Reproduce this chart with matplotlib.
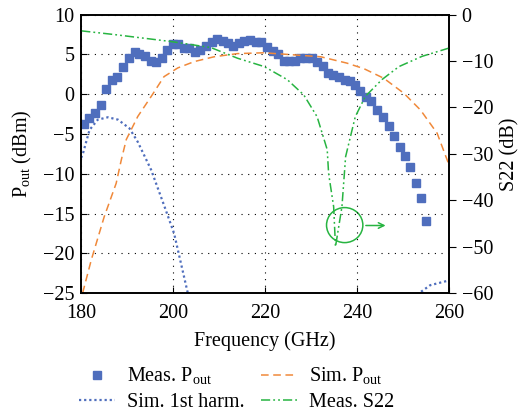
import numpy as np
import matplotlib
matplotlib.use('Agg')
import matplotlib.pyplot as plt
from matplotlib.patches import Ellipse

plt.rcParams['font.family'] = ['Liberation Serif', 'DejaVu Serif']
plt.rcParams['mathtext.fontset'] = 'custom'
plt.rcParams['mathtext.rm'] = 'Liberation Serif'

# Meas. Pout (dBm)
meas_f = [180.6, 181.8, 183.0, 184.3, 185.4, 186.6, 187.8, 189.0, 190.3, 191.6,
          192.6, 193.9, 195.2, 196.3, 197.5, 198.7, 199.9, 201.1, 202.3, 203.5,
          204.7, 205.9, 207.1, 208.4, 209.5, 210.8, 212.0, 213.1, 214.4, 215.4,
          216.7, 218.0, 219.2, 220.5, 221.6, 222.8, 224.0, 225.2, 226.4, 227.6,
          228.8, 230.1, 231.2, 232.5, 233.7, 234.8, 236.0, 237.3, 238.4, 239.5,
          240.7, 242.0, 243.1, 244.4, 245.6, 246.9, 248.0, 249.3, 250.4, 251.6,
          252.8, 253.9, 255.0]
meas_p = [-3.7, -3.0, -2.4, -1.3, 0.6, 1.8, 2.2, 3.4, 4.6, 5.3,
          5.1, 4.8, 4.2, 4.1, 4.6, 5.6, 6.3, 6.3, 5.8, 5.8,
          5.3, 5.5, 6.1, 6.6, 6.9, 6.7, 6.4, 6.1, 6.4, 6.7,
          6.8, 6.6, 6.5, 5.9, 5.4, 5.0, 4.2, 4.2, 4.2, 4.5,
          4.6, 4.6, 4.1, 3.6, 2.7, 2.4, 2.2, 1.8, 1.6, 1.1,
          0.4, -0.3, -0.9, -2.0, -2.9, -4.0, -5.2, -6.6, -7.8, -9.2,
          -11.1, -13.0, -15.9]

# Sim. Pout (dBm)
sim_f = [180.3, 182.2, 185.0, 187.6, 188.7, 189.8, 192.3, 195.2, 198.0, 201.0,
         204.6, 208.9, 214.0, 219.7, 224.8, 232.1, 237.8, 241.5, 245.8, 250.2,
         253.8, 257.4, 260.0]
sim_p = [-25.0, -20.8, -15.4, -11.2, -8.3, -5.7, -2.8, -0.3, 2.2, 3.3,
         4.1, 4.7, 5.1, 5.2, 5.0, 4.7, 3.9, 3.2, 2.0, 0.1,
         -2.0, -4.9, -8.9]

# Sim. 1st harm. (dBm), two visible pieces
harm_f1 = [180.0, 180.4, 181.8, 183.6, 185.8, 188.0, 190.5, 192.3, 195.2, 198.1,
           200.2, 203.1, 203.5]
harm_p1 = [-8.0, -7.4, -4.5, -3.2, -2.9, -3.2, -4.3, -6.0, -9.5, -14.1,
           -17.5, -24.8, -25.5]
harm_f2 = [253.0, 255.9, 260.0]
harm_p2 = [-25.2, -24.0, -23.4]

# Meas. S22 (dB)
s22_f = [180.0, 187.2, 199.5, 208.2, 214.0, 219.8, 224.8, 228.4, 231.3, 233.5,
         233.8, 234.9, 235.3, 236.7, 237.5, 239.6, 241.8, 245.4, 249.1, 254.1,
         260.0]
s22_db = [-3.5, -4.3, -5.8, -7.1, -9.4, -11.2, -14.0, -17.3, -22.0, -29.1,
          -34.2, -41.4, -50.0, -41.4, -30.6, -22.0, -17.6, -14.0, -11.2, -9.0,
          -7.2]

blue = '#4F6EBD'
orange = '#F0893A'
green = '#27B441'
fs = 14.5

fig = plt.figure(figsize=(5.24, 4.17), dpi=100)
ax = fig.add_axes([0.155, 0.297, 0.702, 0.668])
ax2 = ax.twinx()

l1, = ax.plot(meas_f, meas_p, linestyle='none', marker='s', markersize=5.5,
              color=blue, label=r'Meas. P$_{\rm out}$')
l3, = ax.plot(sim_f, sim_p, linestyle=(0, (5, 3)), linewidth=1.1, color=orange,
              label=r'Sim. P$_{\rm out}$')
l2, = ax.plot(harm_f1, harm_p1, linestyle=(0, (1, 1.3)), linewidth=1.6, color=blue,
              label='Sim. 1st harm.')
ax.plot(harm_f2, harm_p2, linestyle=(0, (1, 1.3)), linewidth=1.6, color=blue)
l4, = ax2.plot(s22_f, s22_db, linestyle=(0, (6, 2, 1.2, 2, 1.2, 2)), linewidth=1.1,
               color=green, label='Meas. S22')

ax.set_xlim(180, 260)
ax.set_ylim(-25, 10)
ax2.set_ylim(-60, 0)
ax.set_xticks([180, 200, 220, 240, 260])
ax.set_yticks(np.arange(-25, 11, 5))
ax2.set_yticks(np.arange(-60, 1, 10))
ax.set_yticklabels(['\u221225', '\u221220', '\u221215', '\u221210', '\u22125', '0', '5', '10'])
ax2.set_yticklabels(['\u221260', '\u221250', '\u221240', '\u221230', '\u221220', '\u221210', '0'])

ax.grid(True, color='black', linestyle=(0, (1, 5)), linewidth=0.8)
ax.tick_params(axis='both', direction='in', labelsize=fs, length=4)
ax.tick_params(axis='x', pad=8)
ax.tick_params(axis='y', pad=5)
ax2.tick_params(axis='y', direction='out', labelsize=fs, length=5, pad=4)
for a in (ax, ax2):
    for s in a.spines.values():
        s.set_linewidth(1.2)

ax.set_xlabel('Frequency (GHz)', fontsize=fs, labelpad=6)
ax.set_ylabel(r'P$_{\rm out}$ (dBm)', fontsize=fs, labelpad=6)
ax2.set_ylabel('S22 (dB)', fontsize=fs, labelpad=5)

# circle and arrow marking the S22 curve
ax.add_patch(Ellipse((237.3, -16.45), 7.9, 4.4, fill=False, edgecolor=green, linewidth=1.1))
ax.annotate('', xy=(246.8, -16.5), xytext=(241.3, -16.5),
            arrowprops=dict(arrowstyle='->', color=green, linewidth=1.1))

fig.legend(handles=[l1, l2, l3, l4], ncol=2, loc='upper left',
           bbox_to_anchor=(0.15, 0.122), frameon=False, fontsize=fs,
           handlelength=1.8, handletextpad=0.6, columnspacing=0.8,
           labelspacing=0.25, borderpad=0.0, borderaxespad=0.0)

fig.savefig('out.png', dpi=100)
